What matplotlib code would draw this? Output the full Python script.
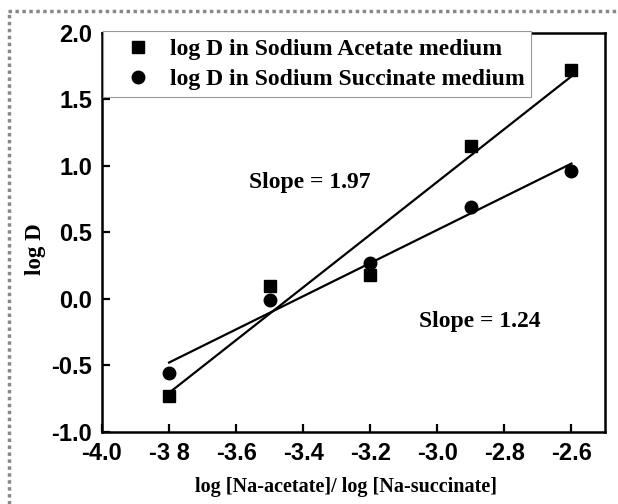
import numpy as np
import matplotlib
matplotlib.use("Agg")
import matplotlib.pyplot as plt
from matplotlib.lines import Line2D

# valores
log_conc = [-3.8, -3.5, -3.2, -2.9, -2.6]
logD_acetato = [-0.73, 0.10, 0.18, 1.15, 1.72]
logD_succinato = [-0.56, -0.01, 0.27, 0.69, 0.96]

xticks = [-4.0, -3.8, -3.6, -3.4, -3.2, -3.0, -2.8, -2.6]
xtick_labels = ["-4.0", "-3 8", "-3.6", "-3.4", "-3.2", "-3.0", "-2.8", "-2.6"]
yticks = [-1.0, -0.5, 0.0, 0.5, 1.0, 1.5, 2.0]
ytick_labels = ["-1.0", "-0.5", "0.0", "0.5", "1.0", "1.5", "2.0"]

serif = {"family": "Liberation Serif", "weight": "bold"}

fig = plt.figure(figsize=(6.18, 5.04), dpi=100)
ax = fig.add_axes([0.1650, 0.1429, 0.8139, 0.7917])

# pontos
ax.plot(log_conc, logD_acetato, "s", color="black", markersize=8,
        label="log D in Sodium Acetate medium", zorder=3)
ax.plot(log_conc, logD_succinato, "o", color="black", markersize=9,
        label="log D in Sodium Succinate medium", zorder=3)

# retas de ajuste linear
x_arr = np.array(log_conc)
for y in (logD_acetato, logD_succinato):
    a, b = np.polyfit(x_arr, y, 1)
    ax.plot(x_arr, a * x_arr + b, color="black", linewidth=1.6, zorder=2)

ax.text(-3.379, 0.872, "Slope = 1.97", ha="center", va="center", fontsize=17, **serif)
ax.text(-2.872, -0.173, "Slope = 1.24", ha="center", va="center", fontsize=17, **serif)

ax.set_xlim(-4.0, -2.5)
ax.set_ylim(-1.0, 2.0)
ax.set_xticks(xticks)
ax.set_xticklabels(xtick_labels)
ax.set_yticks(yticks)
ax.set_yticklabels(ytick_labels)
ax.tick_params(direction="in", length=6, width=1.6, pad=7, top=False, right=False)
for lbl in ax.get_xticklabels() + ax.get_yticklabels():
    lbl.set_fontfamily("Liberation Sans")
    lbl.set_fontweight("bold")
    lbl.set_fontsize(17)
for sp in ax.spines.values():
    sp.set_linewidth(1.8)

ax.set_xlabel("log [Na-acetate]/ log [Na-succinate]", fontsize=14.5, **serif)
ax.set_ylabel("log D", fontsize=16.5, **serif)
ax.xaxis.set_label_coords(0.485, -0.113)
ax.yaxis.set_label_coords(-0.111, 0.459)

leg = ax.legend(loc="upper left", bbox_to_anchor=(0.003, 1.004), borderaxespad=0,
                prop={"family": "Liberation Serif", "weight": "bold", "size": 17},
                handlelength=2.3, handletextpad=0.2, borderpad=0.3, labelspacing=0.35,
                numpoints=1, fancybox=False, framealpha=1)
leg.get_frame().set_edgecolor("#999999")
leg.get_frame().set_linewidth(0.8)
leg.set_zorder(5)

# moldura pontilhada da imagem original (apenas topo e esquerda)
fig.add_artist(Line2D([8 / 618, 1], [1 - 11 / 504, 1 - 11 / 504], transform=fig.transFigure,
                      color="#888888", linewidth=2.5, linestyle=(0, (1, 1))))
fig.add_artist(Line2D([9 / 618, 9 / 618], [0, 1 - 11 / 504], transform=fig.transFigure,
                      color="#888888", linewidth=2.5, linestyle=(0, (1, 1))))

fig.savefig("out.png", dpi=100)
plt.close(fig)
